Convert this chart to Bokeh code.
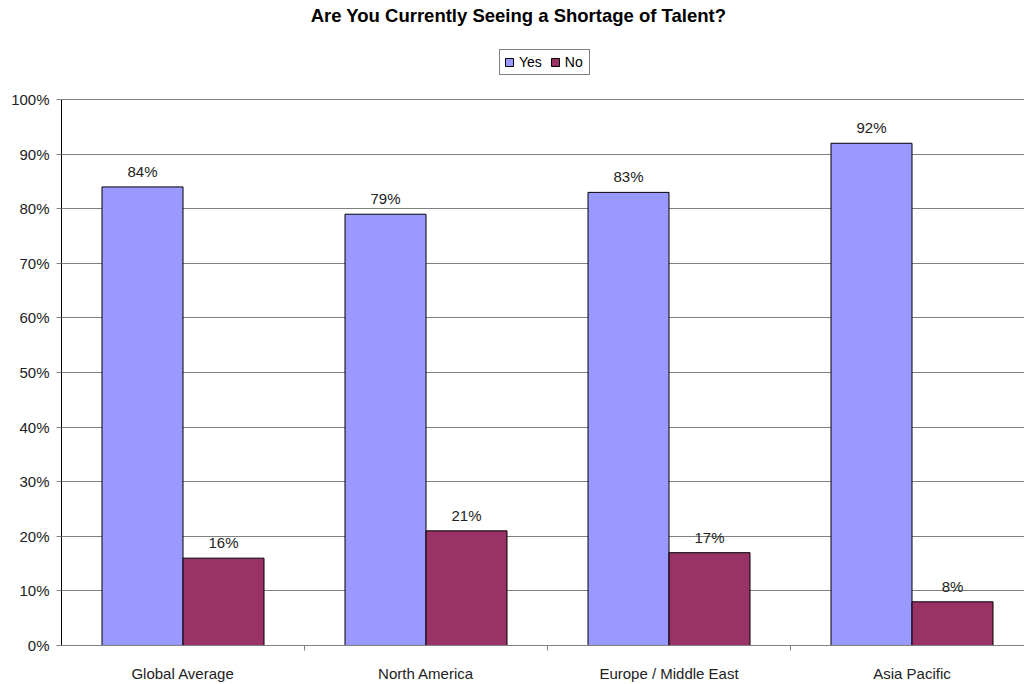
from bokeh.plotting import figure
from bokeh.models import ColumnDataSource, FixedTicker, NumeralTickFormatter, Range1d, Legend, LegendItem, Label
from bokeh.core.properties import value
from bokeh.embed import file_html
from bokeh.resources import INLINE

title_text = "Are You Currently Seeing a Shortage of Talent?"
categories = ["Global Average", "North America", "Europe / Middle East", "Asia Pacific"]
yes_values = [0.84, 0.79, 0.83, 0.92]
no_values = [0.16, 0.21, 0.17, 0.08]
series_names = ["Yes", "No"]
series_colors = ["#9999FF", "#993366"]
y_ticks = [0.0, 0.1, 0.2, 0.3, 0.4, 0.5, 0.6, 0.7, 0.8, 0.9, 1.0]

FONT = "Liberation Sans"
n = len(categories)
centers = [i + 0.5 for i in range(n)]
bw = 1.0 / 3.0

# frame: left at 61px, bottom at 651px; 0..100% spans 551px; one group = 243px
p = figure(width=1024, height=684, output_backend="svg", toolbar_location=None,
           x_range=Range1d(0, 963 / 243), y_range=Range1d(0, 651 / 551),
           min_border_left=61, min_border_right=0, min_border_top=0, min_border_bottom=33)
p.outline_line_color = None
p.background_fill_color = "white"
p.border_fill_color = "white"

renderers = []
for k, (vals, off) in enumerate([(yes_values, -bw / 2), (no_values, bw / 2)]):
    src = ColumnDataSource(dict(x=[c + off for c in centers], top=vals,
                                lab=[f"{round(v * 100)}%" for v in vals]))
    r = p.vbar(x="x", top="top", width=bw, bottom=0, source=src,
               fill_color=series_colors[k], line_color="black", line_width=1)
    renderers.append(r)
    p.text(x="x", y="top", text="lab", source=src, text_align="center",
           text_baseline="bottom", y_offset=-7, text_font=value(FONT),
           text_font_size="15px", text_color="#222222")

p.xgrid.grid_line_color = None
p.ygrid.ticker = FixedTicker(ticks=y_ticks)
p.ygrid.grid_line_color = "#808080"
p.ygrid.grid_line_width = 1
p.ygrid.bounds = (0, 1)

p.yaxis.ticker = FixedTicker(ticks=y_ticks)
p.yaxis.bounds = (0, 1)
p.yaxis.formatter = NumeralTickFormatter(format="0%")
p.yaxis.axis_line_color = "black"
p.yaxis.major_tick_line_color = "#808080"
p.yaxis.major_tick_out = 5
p.yaxis.major_tick_in = 0
p.yaxis.minor_tick_line_color = None
p.yaxis.major_label_standoff = 7
p.yaxis.major_label_text_font = FONT
p.yaxis.major_label_text_font_size = "15px"
p.yaxis.major_label_text_color = "#222222"

p.xaxis.ticker = FixedTicker(ticks=centers, minor_ticks=[1, 2, 3])
p.xaxis.major_label_overrides = {c: categories[i] for i, c in enumerate(centers)}
p.xaxis.axis_line_color = "#808080"
p.xaxis.major_tick_line_color = None
p.xaxis.major_tick_out = 0
p.xaxis.major_tick_in = 0
p.xaxis.minor_tick_line_color = "#808080"
p.xaxis.minor_tick_out = 5
p.xaxis.minor_tick_in = 0
p.xaxis.major_label_standoff = 14
p.xaxis.major_label_text_font = FONT
p.xaxis.major_label_text_font_size = "15px"
p.xaxis.major_label_text_color = "#222222"

title = Label(x=518 - 61, y=651 - 21, x_units="screen", y_units="screen", text=title_text,
              text_align="center", text_baseline="middle", text_font=FONT,
              text_font_size="18.5px", text_font_style="bold", text_color="black")
p.add_layout(title)

legend = Legend(items=[LegendItem(label=series_names[k], renderers=[renderers[k]]) for k in range(2)],
                location=(438, 570), orientation="horizontal")
legend.label_text_font = FONT
legend.label_text_font_size = "14px"
legend.label_text_color = "black"
legend.glyph_width = 10
legend.glyph_height = 10
legend.label_standoff = 5
legend.spacing = 8
legend.padding = 4
legend.margin = 0
legend.border_line_color = "black"
legend.border_line_width = 1
legend.background_fill_color = "white"
legend.label_height = 12
p.add_layout(legend)

open("out.html", "w").write(file_html(p, INLINE))
